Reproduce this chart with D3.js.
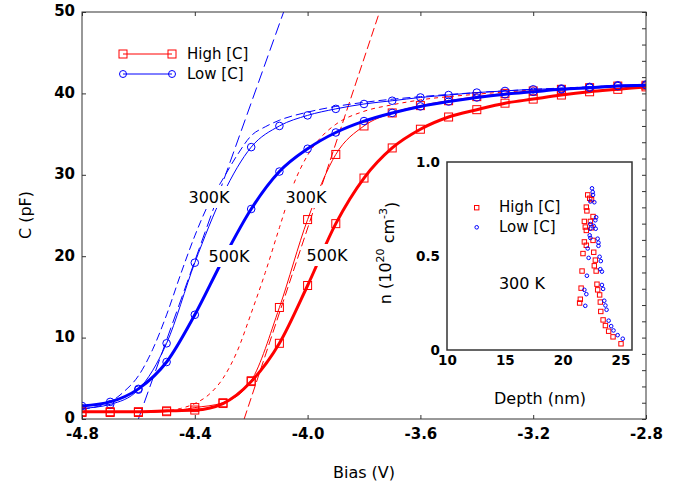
<!DOCTYPE html>
<html>
<head>
<meta charset="utf-8">
<script src="https://cdn.jsdelivr.net/npm/d3@7"></script>
<style>
body { margin: 0; background: #fff; }
text { font-family: "DejaVu Sans", Verdana, sans-serif; fill: #000; }
</style>
</head>
<body>
<svg id="chart" width="679" height="483"></svg>
<script>
// C-V curves, bias in V, capacitance in pF
var bias = [-4.8, -4.7, -4.6, -4.5, -4.4, -4.3, -4.2, -4.1, -4.0, -3.9, -3.8,
            -3.7, -3.6, -3.5, -3.4, -3.3, -3.2, -3.1, -3.0, -2.9, -2.8];
var highC300 = [0.8, 0.8, 0.8, 0.9, 1.4, 2.0, 4.7, 13.7, 24.5, 32.5, 36.0,
                37.6, 38.5, 39.1, 39.6, 40.0, 40.3, 40.5, 40.7, 40.9, 41.0];
var highC500 = [0.9, 0.9, 0.9, 1.0, 1.1, 1.9, 4.6, 9.3, 16.4, 24.0, 29.6,
                33.3, 35.6, 37.1, 38.0, 38.8, 39.3, 39.8, 40.2, 40.5, 40.8];
var lowC300 = [1.3, 1.8, 3.6, 9.3, 19.2, 27.6, 33.4, 36.0, 37.3, 38.1, 38.7,
               39.1, 39.5, 39.8, 40.1, 40.3, 40.5, 40.6, 40.8, 41.0, 41.1];
var lowC500 = [1.6, 2.1, 3.7, 7.0, 12.8, 19.6, 25.8, 30.4, 33.2, 35.2, 36.6,
               37.6, 38.4, 39.0, 39.5, 39.9, 40.2, 40.5, 40.7, 40.9, 41.0];

// fitted curves (dashed)
var highFitBias = [-4.8, -4.6, -4.5, -4.45, -4.4, -4.35, -4.3, -4.25, -4.2, -4.15, -4.1,
                   -4.05, -4.0, -3.95, -3.9, -3.8, -3.7, -3.6, -3.4, -3.2, -3.0, -2.8];
var highFitC = [0.8, 0.85, 1.0, 1.3, 1.9, 3.0, 5.0, 8.3, 13.0, 18.0, 23.5,
                28.8, 32.4, 34.7, 36.2, 37.8, 38.6, 39.2, 39.9, 40.4, 40.7, 41.0];
var lowFitBias = [-4.8, -4.75, -4.7, -4.65, -4.6, -4.55, -4.5, -4.45, -4.4, -4.35, -4.3, -4.25,
                  -4.2, -4.15, -4.1, -4.0, -3.9, -3.8, -3.6, -3.4, -3.2, -3.0, -2.8];
var lowFitC = [1.2, 1.5, 2.1, 3.4, 5.3, 8.5, 12.8, 17.8, 22.5, 26.5, 29.5, 32.4,
               34.8, 35.9, 36.7, 37.7, 38.4, 38.9, 39.6, 40.1, 40.5, 40.8, 41.1];

// linear extrapolations
var highTanBias = [-4.225, -3.745];
var lowTanBias = [-4.60, -4.085];
var tanC = [0, 50];

// inset: carrier profile, depth in nm, n in 1e20 cm^-3
var highDepth = [22.17, 22.34, 22.05, 22.1, 22.5, 21.88, 21.96, 22.4, 22.05, 22.63, 22.5,
                 21.88, 22.05, 21.76, 22.63, 22.69, 22.83, 22.74, 21.68, 22.9, 21.6, 22.97,
                 23.03, 21.53, 21.47, 23.2, 23.26, 23.3, 23.5, 23.7, 23.98, 24.36, 25.05];
var highN = [0.825, 0.807, 0.76, 0.74, 0.80, 0.684, 0.654, 0.684, 0.636, 0.71, 0.65,
             0.575, 0.557, 0.513, 0.583, 0.52, 0.478, 0.448, 0.42, 0.42, 0.329, 0.35,
             0.32, 0.27, 0.25, 0.293, 0.255, 0.205, 0.16, 0.13, 0.10, 0.07, 0.033];
var lowDepth = [22.54, 22.6, 22.63, 22.4, 22.74, 22.9, 22.83, 22.4, 22.69, 22.86, 22.4,
                22.34, 22.4, 22.17, 23.03, 23.1, 23.1, 22.25, 23.2, 23.3, 23.26, 23.4,
                22.1, 23.4, 23.5, 21.88, 22.05, 21.96, 23.6, 23.7, 23.8, 23.98, 24.2,
                24.4, 24.76, 25.2];
var lowN = [0.86, 0.84, 0.825, 0.79, 0.786, 0.706, 0.69, 0.67, 0.66, 0.645, 0.645,
            0.61, 0.596, 0.54, 0.592, 0.571, 0.554, 0.49, 0.496, 0.473, 0.43, 0.417,
            0.395, 0.346, 0.325, 0.32, 0.297, 0.235, 0.262, 0.237, 0.214, 0.156, 0.127,
            0.104, 0.079, 0.06];

var biasTicks = [-4.8, -4.4, -4.0, -3.6, -3.2, -2.8];
var capTicks = [0, 10, 20, 30, 40, 50];
var capMinorTicks = [0, 2, 4, 6, 8, 10, 12, 14, 16, 18, 20, 22, 24, 26, 28, 30,
                     32, 34, 36, 38, 40, 42, 44, 46, 48, 50];
var depthTicks = [10, 15, 20, 25];
var nTicks = [0, 0.5, 1.0];

var RED = '#ff0000', BLUE = '#0000ff';
var FONT = '"DejaVu Sans", Verdana, sans-serif';

var svg = d3.select('#chart');

// main plot area
var pLeft = 82, pRight = 646, pTop = 12, pBottom = 419;
var x = d3.scaleLinear().domain([-4.8, -2.8]).range([pLeft, pRight]);
var y = d3.scaleLinear().domain([0, 50]).range([pBottom, pTop]);

svg.append('defs').append('clipPath').attr('id', 'plotclip')
    .append('rect').attr('x', pLeft).attr('y', pTop).attr('width', pRight - pLeft).attr('height', pBottom - pTop);

var plot = svg.append('g').attr('clip-path', 'url(#plotclip)');

var line = d3.line().x(function(d) { return x(d[0]); }).y(function(d) { return y(d[1]); })
    .curve(d3.curveMonotoneX);
var straight = d3.line().x(function(d) { return x(d[0]); }).y(function(d) { return y(d[1]); });

var pairs = function(xs, ys) { return xs.map(function(v, i) { return [v, ys[i]]; }); };

// dashed extrapolation lines and fits
plot.append('path').attr('d', straight(pairs(lowTanBias, tanC)))
    .attr('fill', 'none').attr('stroke', BLUE).attr('stroke-width', 1).attr('stroke-dasharray', '12,5');
plot.append('path').attr('d', straight(pairs(highTanBias, tanC)))
    .attr('fill', 'none').attr('stroke', RED).attr('stroke-width', 1).attr('stroke-dasharray', '9,4');
plot.append('path').attr('d', line(pairs(lowFitBias, lowFitC)))
    .attr('fill', 'none').attr('stroke', BLUE).attr('stroke-width', 1).attr('stroke-dasharray', '8,4');
plot.append('path').attr('d', line(pairs(highFitBias, highFitC)))
    .attr('fill', 'none').attr('stroke', RED).attr('stroke-width', 1).attr('stroke-dasharray', '4,4');

// curves with markers
var series = [
    {vals: highC300, color: RED, width: 1, marker: 'square'},
    {vals: lowC300, color: BLUE, width: 1, marker: 'circle'},
    {vals: highC500, color: RED, width: 3, marker: 'square'},
    {vals: lowC500, color: BLUE, width: 3, marker: 'circle'}
];

series.forEach(function(s) {
    var pts = pairs(bias, s.vals);
    plot.append('path').attr('d', line(pts))
        .attr('fill', 'none').attr('stroke', s.color).attr('stroke-width', s.width);
    if (s.marker == 'square') {
        plot.selectAll(null).data(pts).enter().append('rect')
            .attr('x', function(d) { return x(d[0]) - 4; })
            .attr('y', function(d) { return y(d[1]) - 4; })
            .attr('width', 8).attr('height', 8)
            .attr('fill', 'none').attr('stroke', s.color).attr('stroke-width', 1);
    } else {
        plot.selectAll(null).data(pts).enter().append('circle')
            .attr('cx', function(d) { return x(d[0]); })
            .attr('cy', function(d) { return y(d[1]); })
            .attr('r', 3.8)
            .attr('fill', 'none').attr('stroke', s.color).attr('stroke-width', 1);
    }
});

// temperature labels on white boxes
var tempLabels = [
    {t: '300K', cx: 209, cy: 197},
    {t: '300K', cx: 306, cy: 197},
    {t: '500K', cx: 229, cy: 256},
    {t: '500K', cx: 327, cy: 255}
];
tempLabels.forEach(function(l) {
    svg.append('rect').attr('x', l.cx - 23).attr('y', l.cy - 11).attr('width', 46).attr('height', 22)
        .attr('fill', '#fff');
    svg.append('text').attr('x', l.cx).attr('y', l.cy).attr('text-anchor', 'middle')
        .attr('dy', '0.36em').attr('font-size', 16).text(l.t);
});

// frame
svg.append('rect').attr('x', pLeft).attr('y', pTop).attr('width', pRight - pLeft).attr('height', pBottom - pTop)
    .attr('fill', 'none').attr('stroke', '#333').attr('stroke-width', 1);

// inward ticks
var noDomain = function(g) { g.select('.domain').remove(); };
svg.append('g').attr('transform', 'translate(0,' + pBottom + ')')
    .call(d3.axisBottom(x).tickValues(biasTicks).tickSize(-4).tickFormat('')).call(noDomain);
svg.append('g').attr('transform', 'translate(0,' + pTop + ')')
    .call(d3.axisTop(x).tickValues(biasTicks).tickSize(-4).tickFormat('')).call(noDomain);
svg.append('g').attr('transform', 'translate(' + pLeft + ',0)')
    .call(d3.axisLeft(y).tickValues(capTicks).tickSize(-4).tickFormat('')).call(noDomain);
svg.append('g').attr('transform', 'translate(' + pRight + ',0)')
    .call(d3.axisRight(y).tickValues(capMinorTicks).tickSize(-4).tickFormat('')).call(noDomain);
svg.selectAll('.tick line').attr('stroke', '#333');

// tick labels
svg.append('g').attr('class', 'lbl').attr('transform', 'translate(0,' + pBottom + ')')
    .call(d3.axisBottom(x).tickValues(biasTicks).tickSize(0).tickPadding(9)
        .tickFormat(function(d) { return d.toFixed(1); }))
    .call(noDomain);
svg.append('g').attr('class', 'lbl').attr('transform', 'translate(' + pLeft + ',-1)')
    .call(d3.axisLeft(y).tickValues(capTicks).tickSize(0).tickPadding(7)
        .tickFormat(function(d) { return String(d); }))
    .call(noDomain);
svg.selectAll('.lbl text').attr('font-family', FONT)
    .attr('font-size', 15).attr('font-weight', 'bold').attr('fill', '#000');

// axis titles
svg.append('text').attr('x', 364).attr('y', 478).attr('text-anchor', 'middle')
    .attr('font-size', 16).text('Bias (V)');
svg.append('text').attr('transform', 'translate(25,215) rotate(-90)').attr('text-anchor', 'middle')
    .attr('dy', '0.36em').attr('font-size', 16).text('C (pF)');

// legend
var legend = [
    {name: 'High [C]', color: RED, marker: 'square', y: 54},
    {name: 'Low [C]', color: BLUE, marker: 'circle', y: 74}
];
legend.forEach(function(l) {
    var g = svg.append('g');
    g.append('line').attr('x1', 123).attr('x2', 172).attr('y1', l.y).attr('y2', l.y)
        .attr('stroke', l.color).attr('stroke-width', 1);
    [123, 172].forEach(function(cx) {
        if (l.marker == 'square') {
            g.append('rect').attr('x', cx - 4).attr('y', l.y - 4).attr('width', 8).attr('height', 8)
                .attr('fill', 'none').attr('stroke', l.color);
        } else {
            g.append('circle').attr('cx', cx).attr('cy', l.y).attr('r', 3.5)
                .attr('fill', 'none').attr('stroke', l.color);
        }
    });
    g.append('text').attr('x', 187).attr('y', l.y).attr('dy', '0.36em')
        .attr('font-size', 15).text(l.name);
});

// ---------------- inset ----------------
var iLeft = 447, iRight = 632, iTop = 162, iBottom = 350;
var ix = d3.scaleLinear().domain([10, 26]).range([iLeft, iRight]);
var iy = d3.scaleLinear().domain([0, 1]).range([iBottom, iTop]);

svg.append('rect').attr('x', iLeft).attr('y', iTop).attr('width', iRight - iLeft).attr('height', iBottom - iTop)
    .attr('fill', '#fff').attr('stroke', '#333').attr('stroke-width', 1.5);

var inset = svg.append('g');
inset.selectAll(null).data(pairs(highDepth, highN)).enter().append('rect')
    .attr('x', function(d) { return ix(d[0]) - 2.2; })
    .attr('y', function(d) { return iy(d[1]) - 2.2; })
    .attr('width', 4.4).attr('height', 4.4)
    .attr('fill', 'none').attr('stroke', RED).attr('stroke-width', 1);
inset.selectAll(null).data(pairs(lowDepth, lowN)).enter().append('circle')
    .attr('cx', function(d) { return ix(d[0]); })
    .attr('cy', function(d) { return iy(d[1]); })
    .attr('r', 1.8)
    .attr('fill', 'none').attr('stroke', BLUE).attr('stroke-width', 1);

svg.append('g').attr('class', 'ilbl').attr('transform', 'translate(0,' + iBottom + ')')
    .call(d3.axisBottom(ix).tickValues(depthTicks).tickSize(0).tickPadding(5)
        .tickFormat(function(d) { return String(d); }))
    .call(noDomain);
svg.append('g').attr('class', 'ilbl').attr('transform', 'translate(' + iLeft + ',0)')
    .call(d3.axisLeft(iy).tickValues(nTicks).tickSize(0).tickPadding(7)
        .tickFormat(function(d) { return d == 0 ? '0' : d.toFixed(1); }))
    .call(noDomain);
svg.selectAll('.ilbl text').attr('font-family', FONT)
    .attr('font-size', 13.5).attr('font-weight', 'bold').attr('fill', '#000');

// inset legend
svg.append('rect').attr('x', 474.5).attr('y', 205.5).attr('width', 4.4).attr('height', 4.4)
    .attr('fill', 'none').attr('stroke', RED);
svg.append('circle').attr('cx', 476.7).attr('cy', 227.3).attr('r', 1.8)
    .attr('fill', 'none').attr('stroke', BLUE);
svg.append('text').attr('x', 499).attr('y', 207).attr('dy', '0.36em').attr('font-size', 15).text('High [C]');
svg.append('text').attr('x', 499).attr('y', 227).attr('dy', '0.36em').attr('font-size', 15).text('Low [C]');
svg.append('text').attr('x', 522).attr('y', 283).attr('text-anchor', 'middle').attr('dy', '0.36em')
    .attr('font-size', 16).text('300 K');

// inset titles
svg.append('text').attr('x', 540).attr('y', 404).attr('text-anchor', 'middle')
    .attr('font-size', 16).text('Depth (nm)');
var nLabel = svg.append('text').attr('transform', 'translate(385,253) rotate(-90)')
    .attr('text-anchor', 'middle').attr('dy', '0.36em').attr('font-size', 16);
nLabel.append('tspan').text('n (10');
nLabel.append('tspan').attr('font-size', 11).attr('dy', '-0.6em').text('20');
nLabel.append('tspan').attr('dy', '0.6em').text(' cm');
nLabel.append('tspan').attr('font-size', 11).attr('dy', '-0.6em').text('-3');
nLabel.append('tspan').attr('dy', '0.6em').text(')');
</script>
</body>
</html>
